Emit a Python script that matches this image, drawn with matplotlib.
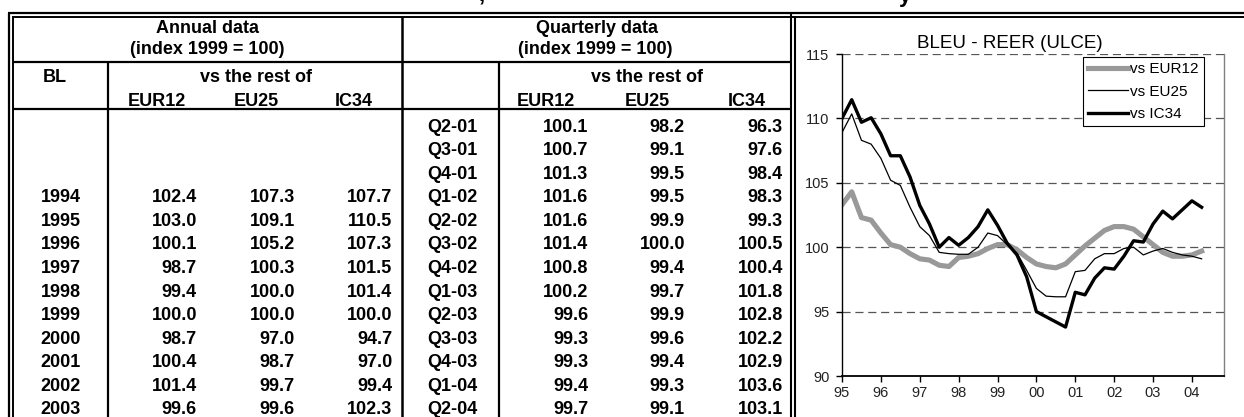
import matplotlib
matplotlib.use("Agg")
import matplotlib.pyplot as plt
from matplotlib.lines import Line2D
import numpy as np

plt.rcParams['font.family'] = ['Liberation Sans', 'DejaVu Sans']

# ---------------- data ----------------
annual_years = ["1994", "1995", "1996", "1997", "1998", "1999", "2000", "2001", "2002", "2003"]
annual_eur12 = [102.4, 103.0, 100.1, 98.7, 99.4, 100.0, 98.7, 100.4, 101.4, 99.6]
annual_eu25 = [107.3, 109.1, 105.2, 100.3, 100.0, 100.0, 97.0, 98.7, 99.7, 99.6]
annual_ic34 = [107.7, 110.5, 107.3, 101.5, 101.4, 100.0, 94.7, 97.0, 99.4, 102.3]

quarters = ["Q2-01", "Q3-01", "Q4-01", "Q1-02", "Q2-02", "Q3-02", "Q4-02",
            "Q1-03", "Q2-03", "Q3-03", "Q4-03", "Q1-04", "Q2-04"]
q_eur12 = [100.1, 100.7, 101.3, 101.6, 101.6, 101.4, 100.8, 100.2, 99.6, 99.3, 99.3, 99.4, 99.7]
q_eu25 = [98.2, 99.1, 99.5, 99.5, 99.9, 100.0, 99.4, 99.7, 99.9, 99.6, 99.4, 99.3, 99.1]
q_ic34 = [96.3, 97.6, 98.4, 98.3, 99.3, 100.5, 100.4, 101.8, 102.8, 102.2, 102.9, 103.6, 103.1]

# chart series: quarterly, Q1-95 ... Q2-04
chart_eur12 = [103.3, 104.3, 102.3, 102.1, 101.1, 100.2, 100.0, 99.5, 99.1, 99.0,
               98.6, 98.5, 99.2, 99.3, 99.5, 99.9, 100.2, 100.2, 99.8, 99.2,
               98.7, 98.5, 98.4, 98.7, 99.4,
               100.1, 100.7, 101.3, 101.6, 101.6, 101.4, 100.8, 100.2, 99.6, 99.3, 99.3, 99.4, 99.7]
chart_eu25 = [108.9, 110.35, 108.3, 108.0, 106.9, 105.2, 104.8, 103.1, 101.6, 100.9,
              99.6, 99.5, 99.45, 99.45, 100.0, 101.1, 100.9, 100.2, 99.55, 98.2,
              96.8, 96.2, 96.15, 96.15, 98.1,
              98.2, 99.1, 99.5, 99.5, 99.9, 100.0, 99.4, 99.7, 99.9, 99.6, 99.4, 99.3, 99.1]
chart_ic34 = [110.0, 111.45, 109.7, 110.05, 108.8, 107.1, 107.1, 105.45, 103.25, 101.8,
              100.0, 100.75, 100.15, 100.75, 101.6, 102.9, 101.7, 100.3, 99.4, 97.7,
              95.0, 94.6, 94.2, 93.8, 96.5,
              96.3, 97.6, 98.4, 98.3, 99.3, 100.5, 100.4, 101.8, 102.8, 102.2, 102.9, 103.6, 103.1]
year_labels = ["95", "96", "97", "98", "99", "00", "01", "02", "03", "04"]
series_labels = ["vs EUR12", "vs EU25", "vs IC34"]
chart_title = "BLEU - REER (ULCE)"

# ---------------- figure ----------------
W, H = 1244, 417
fig = plt.figure(figsize=(W / 100, H / 100), dpi=100)


def fx(x):
    return x / W


def fy(y):
    return 1 - y / H


def hline(y, x0, x1, lw=1.5):
    fig.add_artist(Line2D([fx(x0), fx(x1)], [fy(y), fy(y)], transform=fig.transFigure,
                          color='black', lw=lw, solid_capstyle='butt'))


def vline(x, y0, y1, lw=1.5):
    fig.add_artist(Line2D([fx(x), fx(x)], [fy(y0), fy(y1)], transform=fig.transFigure,
                          color='black', lw=lw, solid_capstyle='butt'))


def txt(x, y, s, ha='center', size=13, weight='bold'):
    fig.text(fx(x), fy(y), s, ha=ha, va='baseline', fontsize=size, fontweight=weight)


# clipped title fragments at the very top
fig.text(fx(482), fy(1), ",", ha='center', va='baseline', fontsize=16, fontweight='bold')
fig.text(fx(905), fy(2), "y", ha='center', va='baseline', fontsize=16, fontweight='bold')

# outer double frame
hline(13.2, 8, W, lw=1.6)
hline(17.2, 12, W, lw=1.4)
vline(9, 12.5, H + 2, lw=1.6)
vline(13, 16.5, H + 2, lw=1.4)
# table grid
hline(62, 13, 791, lw=1.6)
hline(108.5, 13, 791, lw=1.6)
vline(108, 62, H + 2, lw=1.6)
vline(401.5, 17, H + 2, lw=1.8)
vline(499, 62, H + 2, lw=1.6)
vline(791, 13, H + 2, lw=1.5)
vline(795, 17, H + 2, lw=1.5)

# headers
txt(207, 33, "Annual data")
txt(207, 54.5, "(index 1999 = 100)")
txt(55, 81.5, "BL")
txt(256, 81.5, "vs the rest of")
txt(157, 106, "EUR12")
txt(256, 106, "EU25")
txt(354, 106, "IC34")

txt(597, 33, "Quarterly data")
txt(595, 54.5, "(index 1999 = 100)")
txt(647, 81.5, "vs the rest of")
txt(546, 106, "EUR12")
txt(647, 106, "EU25")
txt(747, 106, "IC34")

row0 = 131.7
dy = 23.55
for i, (lab, a, b, c) in enumerate(zip(annual_years, annual_eur12, annual_eu25, annual_ic34)):
    yb = row0 + (i + 3) * dy
    txt(60.5, yb, lab)
    txt(197, yb, f"{a:.1f}", ha='right')
    txt(295, yb, f"{b:.1f}", ha='right')
    txt(392.5, yb, f"{c:.1f}", ha='right')

for i, (lab, a, b, c) in enumerate(zip(quarters, q_eur12, q_eu25, q_ic34)):
    yb = row0 + i * dy
    txt(452.5, yb, lab)
    txt(588, yb, f"{a:.1f}", ha='right')
    txt(685, yb, f"{b:.1f}", ha='right')
    txt(783, yb, f"{c:.1f}", ha='right')

# ---------------- chart ----------------
ax = fig.add_axes([fx(842), fy(376), (1224 - 842) / W, (376 - 54) / H])
xq = np.arange(len(chart_eur12))
for yv in [95, 100, 105, 110, 115]:
    ax.axhline(yv, color='#555555', lw=0.9, ls=(0, (6.5, 3.8)), zorder=0.5)
ax.plot(xq, chart_eur12, color='#999999', lw=3.7, solid_joinstyle='round', label=series_labels[0], zorder=2)
ax.plot(xq, chart_eu25, color='black', lw=0.9, solid_joinstyle='round', label=series_labels[1], zorder=3)
ax.plot(xq, chart_ic34, color='black', lw=2.4, solid_joinstyle='round', label=series_labels[2], zorder=4)

ax.set_xlim(0, 39.3)
ax.set_ylim(90, 115)
ax.set_yticks([90, 95, 100, 105, 110, 115])
ax.set_xticks(np.arange(0, 40, 4))
ax.set_xticklabels(year_labels)
ax.tick_params(axis='both', direction='out', length=4, width=1, labelsize=10.5, colors='black')
ax.tick_params(axis='y', pad=5)
ax.tick_params(axis='x', pad=3)
for lbl in ax.get_xticklabels() + ax.get_yticklabels():
    lbl.set_color('#222222')
ax.spines['top'].set_visible(False)
ax.spines['left'].set_color('black')
ax.spines['left'].set_linewidth(1.0)
ax.spines['bottom'].set_color('black')
ax.spines['bottom'].set_linewidth(1.3)
ax.spines['right'].set_color('#808080')
ax.spines['right'].set_linewidth(1.0)

leg = ax.legend(loc='upper left', bbox_to_anchor=(0.631, 0.991), frameon=True, fancybox=False,
                edgecolor='black', framealpha=1, borderaxespad=0, handlelength=2.6,
                handletextpad=0.15, labelspacing=0.55, borderpad=0.35, fontsize=11)
leg.get_frame().set_linewidth(0.8)

fig.text(fx(1010), fy(48.3), chart_title, ha='center', va='baseline', fontsize=13.5)

fig.savefig("out.png", dpi=100)
